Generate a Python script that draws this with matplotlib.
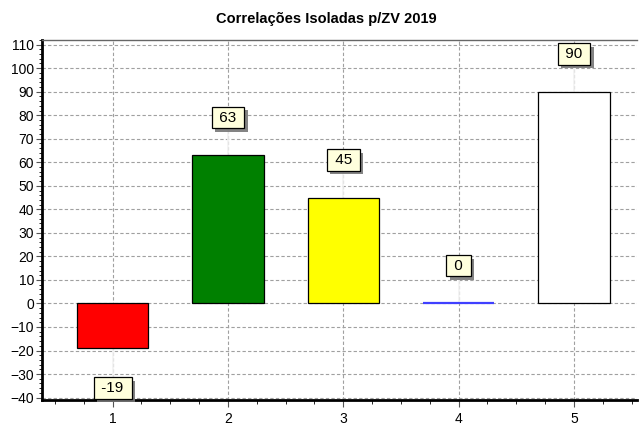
import numpy as np
import matplotlib
matplotlib.use("Agg")
import matplotlib.pyplot as plt
from matplotlib.ticker import MultipleLocator
import matplotlib.patheffects as pe

plt.rcParams['font.family'] = ['Liberation Sans', 'DejaVu Sans']

# data
categories = [1, 2, 3, 4, 5]
values = [-19, 63, 45, 0, 90]
bar_colors = ['#ff0000', '#008000', '#ffff00', '#0000ff', '#ffffff']
edge_colors = ['#000000', '#000000', '#000000', '#4040ff', '#000000']
edge_widths = [0.9, 0.9, 0.9, 1.6, 0.9]
title = 'Correlações Isoladas p/ZV 2019'

fig = plt.figure(figsize=(6.4, 4.25), dpi=100)
ax = fig.add_axes([0.066, 0.059, 0.93, 0.847])

ax.grid(True, color='#a0a0a0', linestyle=(0, (3, 2)), linewidth=0.8)
ax.set_axisbelow(True)

ax.bar(categories, values, width=0.62, color=bar_colors,
       edgecolor=edge_colors, linewidth=edge_widths, zorder=3)

# value labels
for x, v in zip(categories, values):
    y = v + 16 if v >= 0 else v - 17
    # faint connector from bar end to label
    ax.plot([x, x], [v, y], color='#f2f2f2', linewidth=1.2, zorder=2)
    ax.text(x, y, ' %d ' % v, ha='center', va='center', fontsize=11, zorder=5,
            bbox=dict(boxstyle='square,pad=0.24', facecolor='#ffffdd',
                      edgecolor='black', linewidth=0.9,
                      path_effects=[pe.withSimplePatchShadow(offset=(2.5, -2.5), shadow_rgbFace='#777777', alpha=0.9)]))

ax.set_xlim(0.39, 5.55)
ax.set_ylim(-41, 112)
ax.set_xticks(categories)
ax.yaxis.set_major_locator(MultipleLocator(10))
ax.yaxis.set_minor_locator(MultipleLocator(2))
ax.xaxis.set_minor_locator(MultipleLocator(0.25))
ax.tick_params(axis='both', labelsize=10, direction='out', color='#555555')
ax.tick_params(axis='y', which='major', length=4, pad=2)
ax.tick_params(axis='y', which='minor', length=2)
ax.tick_params(axis='x', which='major', length=5, pad=4)
ax.tick_params(axis='x', which='minor', length=3)

for side in ['left', 'bottom']:
    ax.spines[side].set_linewidth(2)
    ax.spines[side].set_color('black')
ax.spines['top'].set_color('#666666')
ax.spines['top'].set_linewidth(1)
ax.spines['right'].set_visible(False)

fig.text(0.51, 0.955, title, ha='center', va='center', fontsize=10.5, fontweight='bold')

fig.savefig('out.png', dpi=100)
